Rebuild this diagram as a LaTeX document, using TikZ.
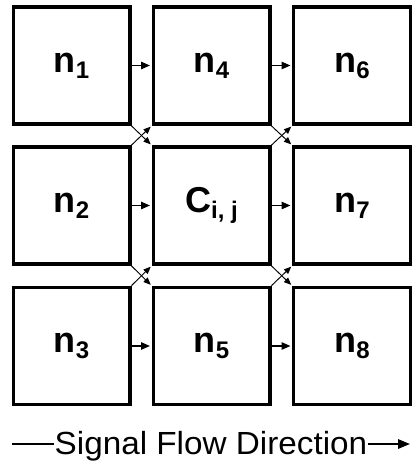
\documentclass[tikz,border=0pt]{standalone}
\usepackage{fontspec}
\usepackage{graphicx}
\setmainfont{Liberation Sans}
\usetikzlibrary{arrows.meta}
\newcommand\nlab[2]{#1\raisebox{-4.5pt}{\fontsize{18}{18}\selectfont #2}}
\begin{document}
\begin{tikzpicture}[x=0.75pt,y=-0.75pt,
  cell/.style={draw, line width=2.6pt, minimum width=87.4pt, minimum height=88pt, inner sep=0pt,
    font=\fontsize{27}{27}\selectfont\bfseries},
  flow/.style={line width=0.8pt, -{Triangle[length=6.5pt,width=5.5pt]}, shorten >=1.2pt},
  cross/.style={line width=0.7pt, -{Triangle[length=5.5pt,width=4.5pt]}, shorten >=0.8pt},
  caption/.style={inner sep=0pt, font=\fontsize{24}{24}\selectfont},
  dashline/.style={line width=1.6pt}]
\useasboundingbox (0,0) rectangle (416,467);
% cells
\node[cell] (n1) at (71.5,65.5) {\nlab{n}{1}};
\node[cell] (n4) at (211.5,65.5) {\nlab{n}{4}};
\node[cell] (n6) at (352,65.5) {\nlab{n}{6}};
\node[cell] (n2) at (71.5,205.5) {\nlab{n}{2}};
\node[cell] (C) at (211.5,205.5) {\nlab{C}{i, j}};
\node[cell] (n7) at (352,205.5) {\nlab{n}{7}};
\node[cell] (n3) at (71.5,346) {\nlab{n}{3}};
\node[cell] (n5) at (211.5,346) {\nlab{n}{5}};
\node[cell] (n8) at (352,346) {\nlab{n}{8}};
% horizontal flow
\draw[flow] (n1.east) -- (n4.west);
\draw[flow] (n4.east) -- (n6.west);
\draw[flow] (n2.east) -- (C.west);
\draw[flow] (C.east) -- (n7.west);
\draw[flow] (n3.east) -- (n5.west);
\draw[flow] (n5.east) -- (n8.west);
% diagonal crossings
\draw[cross] (n1.south east) -- (C.north west);
\draw[cross] (n2.north east) -- (n4.south west);
\draw[cross] (n2.south east) -- (n5.north west);
\draw[cross] (n3.north east) -- (C.south west);
\draw[cross] (n4.south east) -- (n7.north west);
\draw[cross] (C.north east) -- (n6.south west);
\draw[cross] (C.south east) -- (n8.north west);
\draw[cross] (n5.north east) -- (n7.south west);
% caption
\node[caption, anchor=base] (sig) at (211,454) {\scalebox{1.04}[1]{Signal Flow Direction}};
\coordinate (d0) at (12,444);
\coordinate (d1) at (410,444);
\draw[dashline] (d0) -- (sig.west |- d0);
\draw[dashline, -{Triangle[length=9pt,width=7pt]}] (sig.east |- d1) -- (d1);
\end{tikzpicture}
\end{document}
